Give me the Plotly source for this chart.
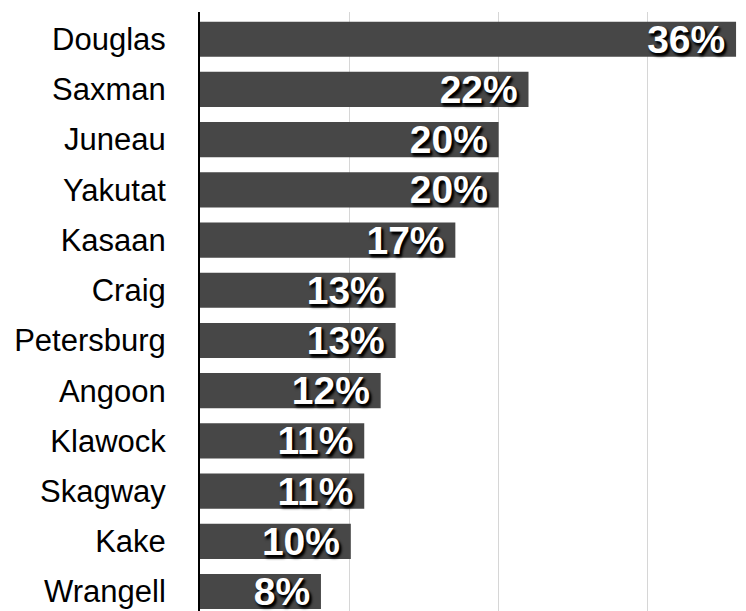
import plotly.graph_objects as go

communities = ["Douglas", "Saxman", "Juneau", "Yakutat", "Kasaan", "Craig",
               "Petersburg", "Angoon", "Klawock", "Skagway", "Kake", "Wrangell"]
shares = [0.359, 0.220, 0.200, 0.200, 0.171, 0.131, 0.131, 0.121, 0.110, 0.110, 0.101, 0.081]

fig = go.Figure(go.Bar(
    x=shares,
    y=communities,
    orientation="h",
    marker=dict(color="#474747", line=dict(width=0)),
    width=0.70,
    texttemplate="%{x:.0%}\u2009",
    textposition="inside",
    insidetextanchor="end",
    constraintext="none",
    textangle=0,
    textfont=dict(family="Liberation Sans, Arial, sans-serif", size=39, color="white",
                  weight="bold", shadow="2px 2px 2px #000000, 2px 3px 3px #000000"),
    hoverinfo="skip",
))

# the page body has an 8px default margin; margins below compensate for it
fig.update_layout(
    width=746, height=611,
    margin=dict(l=192, r=16, t=4, b=8, autoexpand=False),
    paper_bgcolor="white",
    plot_bgcolor="white",
    showlegend=False,
    bargap=0.3,
)
fig.update_xaxes(
    range=[0, 0.3603],
    showgrid=True, gridcolor="#d6d6d6", gridwidth=1,
    dtick=0.1, tick0=0,
    showticklabels=False, ticks="",
    zeroline=False, showline=False,
    automargin=False,
)
fig.update_yaxes(
    type="category",
    range=[11.388, -0.542],
    showline=True, linecolor="black", linewidth=2,
    ticks="", ticklabelstandoff=26,
    tickfont=dict(family="Liberation Sans, Arial, sans-serif", size=31, color="black"),
    showgrid=False, zeroline=False,
    automargin=False,
)

fig.write_html("out.html")
